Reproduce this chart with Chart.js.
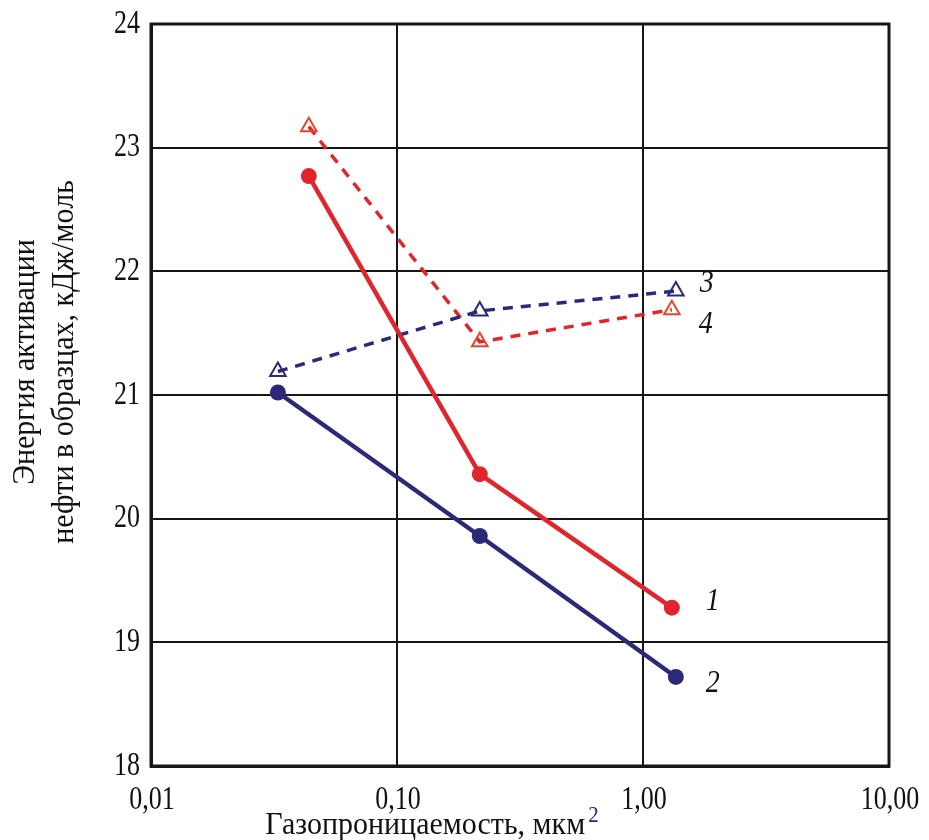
<!DOCTYPE html>
<html>
<head>
<meta charset="utf-8">
<script src="https://cdn.jsdelivr.net/npm/chart.js@4/dist/chart.umd.min.js"></script>
<style>
html,body{margin:0;padding:0;background:#fff;}
#wrap{width:929px;height:840px;position:relative;}
</style>
</head>
<body>
<div id="wrap"><canvas id="c" width="929" height="840"></canvas></div>
<script>
// ---- data ----
const xTickValues = [0.01, 0.1, 1, 10];
const xTickLabels = ["0,01", "0,10", "1,00", "10,00"];
const yTickValues = [18, 19, 20, 21, 22, 23, 24];

const x1 = [0.0438, 0.217, 1.31];
const y1 = [22.77, 20.36, 19.28];
const x2 = [0.0328, 0.217, 1.36];
const y2 = [21.02, 19.86, 18.72];
const x3 = [0.0328, 0.217, 1.36];
const y3 = [21.19, 21.68, 21.84];
const x4 = [0.0438, 0.217, 1.31];
const y4 = [23.17, 21.43, 21.69];
const seriesLabels = ["1", "2", "3", "4"];

const xTitle = "Газопроницаемость, мкм";
const xTitleSup = "2";
const yTitleLines = ["Энергия активации", "нефти в образцах, кДж/моль"];

const RED = "#e1262b";
const RED_T = "#e8452c";
const NAVY = "#2b2a78";
const GRID = "#161616";
const TEXT = "#111";
const FONT = "'Liberation Serif', 'Times New Roman', serif";
const STRETCH = 1.27; // vertical stretch of the (condensed-looking) reference type

const pts = (xs, ys) => xs.map((x, i) => ({x: x, y: ys[i]}));

// label offsets relative to the last point of each series (pixels)
const labelOffsets = [[41, -6], [37, 7], [31, -8], [34, 15]];

function stretchedText(ctx, t, x, y, sy) {
  ctx.save();
  ctx.translate(x, y);
  ctx.scale(1, sy);
  ctx.fillText(t, 0, 0);
  ctx.restore();
}

const decorPlugin = {
  id: 'decor',
  afterDraw(chart) {
    const ctx = chart.ctx;
    const a = chart.chartArea;
    ctx.save();
    // frame
    ctx.strokeStyle = GRID;
    ctx.lineWidth = 3;
    ctx.strokeRect(a.left, a.top, a.right - a.left, a.bottom - a.top);

    // tick labels, placed by the library's scales
    ctx.fillStyle = TEXT;
    ctx.font = "26px " + FONT;
    ctx.textBaseline = "middle";
    const xs = chart.scales.x, ys = chart.scales.y;
    ctx.textAlign = "center";
    xs.ticks.forEach((tk) => {
      const i = xTickValues.findIndex(t => Math.abs(t - tk.value) < 1e-9);
      if (i < 0) return;
      stretchedText(ctx, xTickLabels[i], xs.getPixelForValue(tk.value) + 1, a.bottom + 34, STRETCH);
    });
    ctx.textAlign = "right";
    ys.ticks.forEach((tk) => {
      stretchedText(ctx, String(tk.value), a.left - 11, ys.getPixelForValue(tk.value), STRETCH);
    });

    // series number labels
    ctx.font = "italic 28px " + FONT;
    ctx.textAlign = "center";
    ctx.textBaseline = "middle";
    chart.data.datasets.forEach((ds, i) => {
      const meta = chart.getDatasetMeta(i);
      const last = meta.data[meta.data.length - 1];
      stretchedText(ctx, seriesLabels[i], last.x + labelOffsets[i][0], last.y + labelOffsets[i][1], 1.15);
    });

    // x title
    ctx.textBaseline = "alphabetic";
    ctx.textAlign = "left";
    ctx.font = "30px " + FONT;
    const w1 = ctx.measureText(xTitle).width;
    ctx.font = "21px " + FONT;
    const w2 = ctx.measureText(xTitleSup).width;
    const cx = 432;
    const sx = cx - (w1 + w2 + 3) / 2;
    ctx.font = "30px " + FONT;
    ctx.fillStyle = TEXT;
    stretchedText(ctx, xTitle, sx, 834, 1.08);
    ctx.font = "21px " + FONT;
    ctx.fillStyle = NAVY;
    stretchedText(ctx, xTitleSup, sx + w1 + 3, 822, 1.1);

    // y title
    ctx.fillStyle = TEXT;
    ctx.font = "30px " + FONT;
    ctx.textAlign = "center";
    const cy = 362;
    [[yTitleLines[0], 34], [yTitleLines[1], 73]].forEach(([t, bx]) => {
      ctx.save();
      ctx.translate(bx, cy);
      ctx.rotate(-Math.PI / 2);
      ctx.scale(1, 1.08);
      ctx.fillText(t, 0, 0);
      ctx.restore();
    });
    ctx.restore();
  }
};

new Chart(document.getElementById('c'), {
  type: 'scatter',
  data: {
    datasets: [
      {data: pts(x1, y1), showLine: true, borderColor: RED, backgroundColor: RED,
       borderWidth: 4.5, pointStyle: 'circle', pointRadius: 8, pointBorderWidth: 0},
      {data: pts(x2, y2), showLine: true, borderColor: NAVY, backgroundColor: NAVY,
       borderWidth: 4.5, pointStyle: 'circle', pointRadius: 8, pointBorderWidth: 0},
      {data: pts(x3, y3), showLine: true, borderColor: NAVY, backgroundColor: 'rgba(0,0,0,0)',
       borderWidth: 3.5, borderDash: [10, 8], pointStyle: 'triangle', pointRadius: 9,
       pointBorderWidth: 2, pointBorderColor: NAVY, pointBackgroundColor: 'rgba(0,0,0,0)'},
      {data: pts(x4, y4), showLine: true, borderColor: RED, backgroundColor: 'rgba(0,0,0,0)',
       borderWidth: 3.5, borderDash: [10, 8], pointStyle: 'triangle', pointRadius: 9,
       pointBorderWidth: 2, pointBorderColor: RED_T, pointBackgroundColor: 'rgba(0,0,0,0)'}
    ]
  },
  options: {
    responsive: false,
    animation: false,
    devicePixelRatio: 1,
    layout: {padding: {top: 24, right: 40, left: 0, bottom: 0}},
    plugins: {legend: {display: false}, tooltip: {enabled: false}},
    scales: {
      x: {
        type: 'logarithmic', min: 0.01, max: 10,
        afterBuildTicks: (s) => { s.ticks = xTickValues.map(v => ({value: v})); },
        afterFit: (s) => { s.height = 74; },
        grid: {color: GRID, lineWidth: 2, drawTicks: false},
        border: {color: GRID, width: 3},
        ticks: {display: false}
      },
      y: {
        type: 'linear', min: 18, max: 24,
        afterBuildTicks: (s) => { s.ticks = yTickValues.map(v => ({value: v})); },
        afterFit: (s) => { s.width = 151; },
        grid: {color: GRID, lineWidth: 2, drawTicks: false},
        border: {color: GRID, width: 3},
        ticks: {display: false}
      }
    }
  },
  plugins: [decorPlugin]
});
</script>
</body>
</html>
